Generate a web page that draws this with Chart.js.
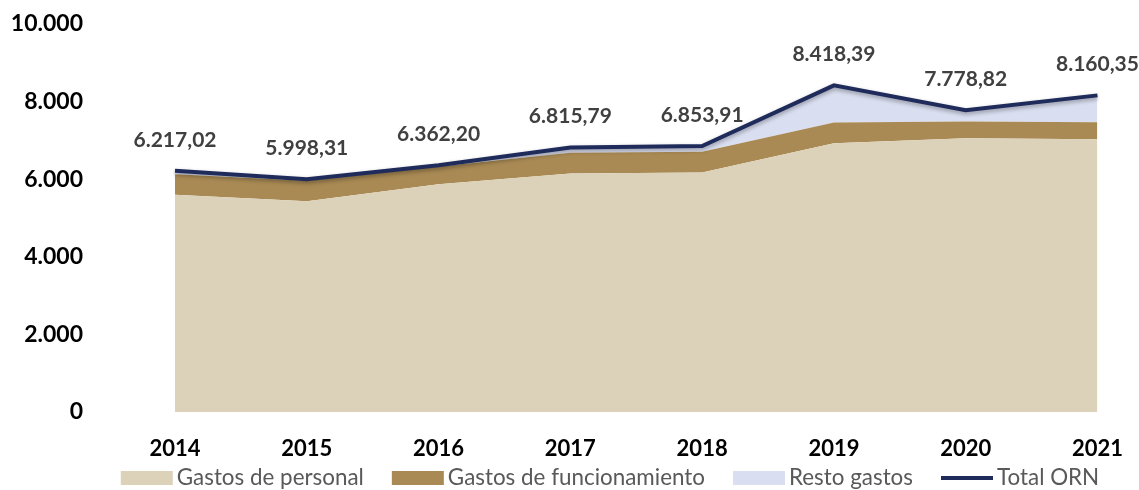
<!DOCTYPE html>
<html>
<head>
<meta charset="utf-8">
<script src="https://cdn.jsdelivr.net/npm/chart.js@4.4.1/dist/chart.umd.min.js"></script>
<style>
  html, body { margin: 0; padding: 0; background: #fff; }
  #wrap { width: 1139px; height: 490px; }
</style>
</head>
<body>
<div id="wrap"><canvas id="myChart" width="1139" height="490"></canvas></div>
<script>
// Data
const years = ['2014', '2015', '2016', '2017', '2018', '2019', '2020', '2021'];
const gastosPersonal = [5600, 5430, 5870, 6150, 6170, 6925, 7055, 7030];
const gastosFuncionamiento = [530, 530, 460, 530, 540, 535, 430, 440];
const restoGastos = [87, 38, 32, 136, 144, 958, 294, 690];
const totalORN = [6217.02, 5998.31, 6362.20, 6815.79, 6853.91, 8418.39, 7778.82, 8160.35];
const yTicks = [0, 2000, 4000, 6000, 8000, 10000];

// Spanish number format: 1.234,56
function fmt(value, decimals) {
    const parts = value.toFixed(decimals).split('.');
    const intPart = parts[0].replace(/\B(?=(\d{3})+(?!\d))/g, '.');
    return parts.length > 1 ? intPart + ',' + parts[1] : intPart;
}

const colors = {
    personal: '#DCD2B9',
    funcionamiento: '#A98A54',
    resto: '#D9DEF0',
    total: '#1E2B5B'
};

// Value labels above the total line + soft shadow on the line
const totalLabels = {
    id: 'totalLabels',
    afterDatasetsDraw(chart) {
        const ctx = chart.ctx;
        const meta = chart.getDatasetMeta(3);
        ctx.save();
        ctx.font = 'bold 21px Lato';
        ctx.fillStyle = '#404040';
        ctx.textAlign = 'center';
        ctx.textBaseline = 'middle';
        meta.data.forEach((pt, i) => {
            ctx.fillText(fmt(totalORN[i], 2), pt.x, pt.y - 31);
        });
        ctx.restore();
    },
    beforeDatasetDraw(chart, args) {
        if (args.index === 3) {
            const ctx = chart.ctx;
            ctx.shadowColor = 'rgba(0,0,0,0.35)';
            ctx.shadowBlur = 4;
            ctx.shadowOffsetY = 2;
        }
    },
    afterDatasetDraw(chart, args) {
        if (args.index === 3) {
            const ctx = chart.ctx;
            ctx.shadowColor = 'rgba(0,0,0,0)';
            ctx.shadowBlur = 0;
            ctx.shadowOffsetY = 0;
        }
    }
};

// Legend along the bottom, Excel style
const bottomLegend = {
    id: 'bottomLegend',
    afterDraw(chart) {
        const ctx = chart.ctx;
        const y = 478;
        ctx.save();
        ctx.font = '22.4px Lato';
        ctx.textBaseline = 'middle';
        const items = chart.data.datasets.map((ds, i) => ({
            text: ds.label,
            isLine: i === 3,
            color: i === 3 ? ds.borderColor : ds.backgroundColor
        }));
        const sw = 52, gapText = 4, gapItem = 28;
        let total = 0;
        items.forEach((it, i) => {
            it.tw = ctx.measureText(it.text).width;
            total += sw + gapText + it.tw + (i < items.length - 1 ? gapItem : 0);
        });
        let x = 610 - total / 2;
        items.forEach(it => {
            if (it.isLine) {
                ctx.strokeStyle = it.color;
                ctx.lineWidth = 4;
                ctx.beginPath();
                ctx.moveTo(x, y);
                ctx.lineTo(x + sw, y);
                ctx.stroke();
            } else {
                ctx.fillStyle = it.color;
                ctx.fillRect(x, y - 7, sw, 14);
            }
            x += sw + gapText;
            ctx.fillStyle = '#595959';
            ctx.fillText(it.text, x, y);
            x += it.tw + gapItem;
        });
        ctx.restore();
    }
};

const ctx = document.getElementById('myChart').getContext('2d');

new Chart(ctx, {
    type: 'line',
    data: {
        labels: years,
        datasets: [
            {
                label: 'Gastos de personal',
                data: gastosPersonal,
                backgroundColor: colors.personal,
                borderWidth: 0,
                pointRadius: 0,
                fill: 'origin',
                stack: 'areas',
                order: 1
            },
            {
                label: 'Gastos de funcionamiento',
                data: gastosFuncionamiento,
                backgroundColor: colors.funcionamiento,
                borderWidth: 0,
                pointRadius: 0,
                fill: '-1',
                stack: 'areas',
                order: 1
            },
            {
                label: 'Resto gastos',
                data: restoGastos,
                backgroundColor: colors.resto,
                borderWidth: 0,
                pointRadius: 0,
                fill: '-1',
                stack: 'areas',
                order: 1
            },
            {
                label: 'Total ORN',
                data: totalORN,
                borderColor: colors.total,
                backgroundColor: colors.total,
                borderWidth: 4,
                pointRadius: 0,
                fill: false,
                stack: 'total',
                order: 0
            }
        ]
    },
    options: {
        responsive: false,
        animation: false,
        layout: {
            padding: { top: 24, right: 39, left: 0, bottom: 30 }
        },
        scales: {
            x: {
                offset: false,
                grid: { display: false },
                border: { display: false },
                afterFit: scale => {
                    scale.height = 48;
                },
                ticks: {
                    color: '#000',
                    font: { family: 'Lato', size: 22, weight: 'bold' },
                    padding: 16,
                    maxRotation: 0
                }
            },
            y: {
                stacked: true,
                min: 0,
                max: 10000,
                grid: { display: false },
                border: { display: false },
                afterBuildTicks: scale => {
                    scale.ticks = yTicks.map(v => ({ value: v }));
                },
                afterFit: scale => {
                    scale.width = 175;
                    scale.paddingTop = 0;
                    scale.paddingBottom = 0;
                },
                ticks: {
                    color: '#000',
                    font: { family: 'Lato', size: 23, weight: 'bold' },
                    padding: 84,
                    callback: value => fmt(value, 0)
                }
            }
        },
        plugins: {
            tooltip: { enabled: false },
            legend: { display: false }
        }
    },
    plugins: [totalLabels, bottomLegend]
});
</script>
</body>
</html>
